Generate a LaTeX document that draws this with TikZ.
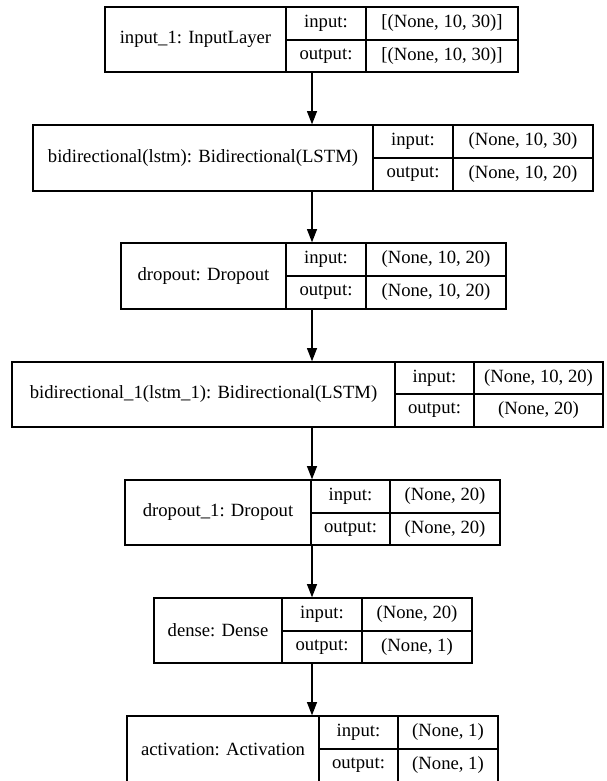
\documentclass[tikz,border=0pt]{standalone}
\usepackage{fontspec}
\setmainfont{Liberation Serif}
\usetikzlibrary{arrows.meta}

\begin{document}
\begin{tikzpicture}[x=1pt, y=-1pt, font=\fontsize{18.67}{22}\selectfont,
    cell/.style={draw, rectangle, inner sep=0pt, line width=1.33pt},
    arr/.style={-{Triangle[length=13.3pt,width=10pt]}, line width=1.33pt}]
    \useasboundingbox (0,0) rectangle (607,781);
    \coordinate (ax) at (312,0);

    % input_1
    \node[cell, minimum width=181pt, minimum height=65pt] (1) at (195.5,39.5) {input\_1: InputLayer};
    \node[cell, minimum width=80pt, minimum height=33pt] (1a) at (326,23.5) {input:};
    \node[cell, minimum width=80pt, minimum height=32pt] (1b) at (326,56) {output:};
    \node[cell, minimum width=152pt, minimum height=33pt] (1c) at (442,23.5) {[(None, 10, 30)]};
    \node[cell, minimum width=152pt, minimum height=32pt] (1d) at (442,56) {[(None, 10, 30)]};

    % bidirectional
    \node[cell, minimum width=340pt, minimum height=66pt] (2) at (203,158) {bidirectional(lstm): Bidirectional(LSTM)};
    \node[cell, minimum width=80pt, minimum height=33pt] (2a) at (413,141.5) {input:};
    \node[cell, minimum width=80pt, minimum height=33pt] (2b) at (413,174.5) {output:};
    \node[cell, minimum width=140pt, minimum height=33pt] (2c) at (523,141.5) {(None, 10, 30)};
    \node[cell, minimum width=140pt, minimum height=33pt] (2d) at (523,174.5) {(None, 10, 20)};

    % dropout
    \node[cell, minimum width=165pt, minimum height=66pt] (3) at (203.5,276) {dropout: Dropout};
    \node[cell, minimum width=80pt, minimum height=33pt] (3a) at (326,259.5) {input:};
    \node[cell, minimum width=80pt, minimum height=33pt] (3b) at (326,292.5) {output:};
    \node[cell, minimum width=140pt, minimum height=33pt] (3c) at (436,259.5) {(None, 10, 20)};
    \node[cell, minimum width=140pt, minimum height=33pt] (3d) at (436,292.5) {(None, 10, 20)};

    % bidirectional_1
    \node[cell, minimum width=383pt, minimum height=65pt] (4) at (203.5,394.5) {bidirectional\_1(lstm\_1): Bidirectional(LSTM)};
    \node[cell, minimum width=79pt, minimum height=32pt] (4a) at (434.5,378) {input:};
    \node[cell, minimum width=79pt, minimum height=33pt] (4b) at (434.5,410.5) {output:};
    \node[cell, minimum width=129pt, minimum height=32pt] (4c) at (538.5,378) {(None, 10, 20)};
    \node[cell, minimum width=129pt, minimum height=33pt] (4d) at (538.5,410.5) {(None, 20)};

    % dropout_1
    \node[cell, minimum width=186pt, minimum height=65pt] (5) at (218,512.5) {dropout\_1: Dropout};
    \node[cell, minimum width=79pt, minimum height=33pt] (5a) at (350.5,496.5) {input:};
    \node[cell, minimum width=79pt, minimum height=32pt] (5b) at (350.5,529) {output:};
    \node[cell, minimum width=110pt, minimum height=33pt] (5c) at (445,496.5) {(None, 20)};
    \node[cell, minimum width=110pt, minimum height=32pt] (5d) at (445,529) {(None, 20)};

    % dense
    \node[cell, minimum width=128pt, minimum height=65pt] (6) at (218,630.5) {dense: Dense};
    \node[cell, minimum width=80pt, minimum height=33pt] (6a) at (322,614.5) {input:};
    \node[cell, minimum width=80pt, minimum height=32pt] (6b) at (322,647) {output:};
    \node[cell, minimum width=110pt, minimum height=33pt] (6c) at (417,614.5) {(None, 20)};
    \node[cell, minimum width=110pt, minimum height=32pt] (6d) at (417,647) {(None, 1)};

    % activation
    \node[cell, minimum width=192pt, minimum height=66pt] (7) at (223,749) {activation: Activation};
    \node[cell, minimum width=79pt, minimum height=33pt] (7a) at (358.5,732.5) {input:};
    \node[cell, minimum width=79pt, minimum height=33pt] (7b) at (358.5,765.5) {output:};
    \node[cell, minimum width=100pt, minimum height=33pt] (7c) at (448,732.5) {(None, 1)};
    \node[cell, minimum width=100pt, minimum height=33pt] (7d) at (448,765.5) {(None, 1)};

    \draw[arr] (1.south -| ax) -- (2.north -| ax);
    \draw[arr] (2.south -| ax) -- (3.north -| ax);
    \draw[arr] (3.south -| ax) -- (4.north -| ax);
    \draw[arr] (4.south -| ax) -- (5.north -| ax);
    \draw[arr] (5.south -| ax) -- (6.north -| ax);
    \draw[arr] (6.south -| ax) -- (7.north -| ax);

\end{tikzpicture}
\end{document}
